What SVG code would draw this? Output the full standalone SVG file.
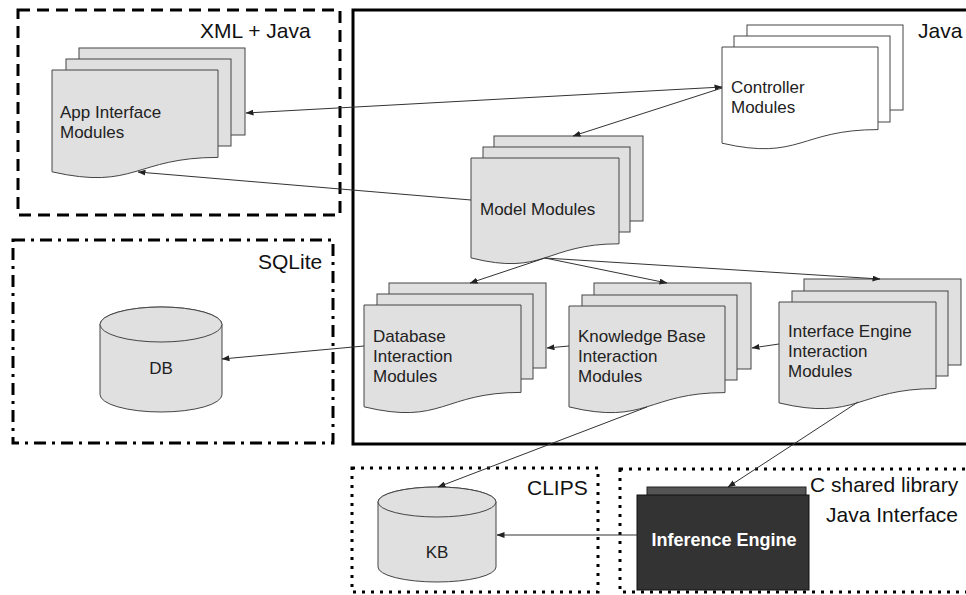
<svg xmlns="http://www.w3.org/2000/svg" width="966" height="595" viewBox="0 0 966 595">
  <style>
    .sheet { fill: #e0e0e0; stroke: #444; stroke-width: 1; }
    .white { fill: #ffffff; stroke: #444; stroke-width: 1; }
    .lbl { font-family: "Liberation Sans", Arial, sans-serif; font-size: 17px; fill: #222; }
    .zone { font-family: "Liberation Sans", Arial, sans-serif; font-size: 21px; fill: #111; }
    .edge { fill: none; stroke: #333; stroke-width: 1; }
    .boxline { fill: none; stroke: #000; stroke-width: 3; }
  </style>
  <defs>
    <marker id="arrow" viewBox="0 0 8 6" refX="7.5" refY="3" markerWidth="8" markerHeight="6" markerUnits="userSpaceOnUse" orient="auto-start-reverse">
      <path d="M0,0 L8,3 L0,6 z" fill="#222"/>
    </marker>
  </defs>

  <!-- technology zones -->
  <g id="zone-xml-java">
    <rect class="boxline" x="18" y="10" width="322" height="205" stroke-dasharray="12 7"/>
    <text class="zone" x="200" y="38">XML + Java</text>
  </g>
  <g id="zone-java">
    <rect class="boxline" x="353" y="10" width="630" height="434"/>
    <text class="zone" x="918" y="38">Java</text>
  </g>
  <g id="zone-sqlite">
    <rect class="boxline" x="13" y="240" width="320" height="203" stroke-dasharray="12 6 3 6"/>
    <text class="zone" x="258" y="269">SQLite</text>
  </g>
  <g id="zone-clips">
    <rect class="boxline" x="352" y="468" width="246" height="124" stroke-dasharray="3 6"/>
    <text class="zone" x="527" y="495">CLIPS</text>
  </g>

  <!-- module stacks -->
  <g id="app-interface">
    <rect class="sheet" x="79" y="48" width="166" height="87"/>
    <rect class="sheet" x="66" y="59" width="165" height="87"/>
    <path class="sheet" d="M52,70 H218 V157.4 C135,157.4 135,190.7 52,171.8 Z"/>
    <text class="lbl" x="60" y="118">App Interface</text>
    <text class="lbl" x="60" y="138">Modules</text>
  </g>
  <g id="controller">
    <rect class="white" x="747" y="25" width="156" height="85"/>
    <rect class="white" x="734" y="36" width="156" height="86"/>
    <path class="white" d="M722,47 H878 V129.6 C800,129.6 800,161.1 722,143.2 Z"/>
    <text class="lbl" x="731" y="93">Controller</text>
    <text class="lbl" x="731" y="113">Modules</text>
  </g>
  <g id="model">
    <rect class="sheet" x="494" y="136" width="149" height="85"/>
    <rect class="sheet" x="483" y="147" width="147" height="85"/>
    <path class="sheet" d="M471,158 H619 V243.8 C545,243.8 545,276.5 471,257.9 Z"/>
    <text class="lbl" x="480" y="215">Model Modules</text>
  </g>
  <g id="database-interaction">
    <rect class="sheet" x="389" y="283" width="157" height="85"/>
    <rect class="sheet" x="377" y="294" width="156" height="85"/>
    <path class="sheet" d="M364,305 H521 V392.4 C442.5,392.4 442.5,425.7 364,406.8 Z"/>
    <text class="lbl" x="373" y="342">Database</text>
    <text class="lbl" x="373" y="362">Interaction</text>
    <text class="lbl" x="373" y="382">Modules</text>
  </g>
  <g id="kb-interaction">
    <rect class="sheet" x="594" y="283" width="157" height="86"/>
    <rect class="sheet" x="582" y="295" width="155" height="85"/>
    <path class="sheet" d="M569,306 H725 V392.6 C647,392.6 647,425.6 569,406.9 Z"/>
    <text class="lbl" x="578" y="342">Knowledge Base</text>
    <text class="lbl" x="578" y="362">Interaction</text>
    <text class="lbl" x="578" y="382">Modules</text>
  </g>
  <g id="engine-interaction">
    <rect class="sheet" x="804" y="279" width="157" height="86"/>
    <rect class="sheet" x="792" y="291" width="156" height="85"/>
    <path class="sheet" d="M779,302 H936 V388.6 C857.5,388.6 857.5,421.6 779,402.9 Z"/>
    <text class="lbl" x="788" y="337">Interface Engine</text>
    <text class="lbl" x="788" y="357">Interaction</text>
    <text class="lbl" x="788" y="377">Modules</text>
  </g>

  <!-- data stores -->
  <g id="db">
    <path class="sheet" d="M100,324.5 A61,17.5 0 0 1 222,324.5 V394.5 A61,17.5 0 0 1 100,394.5 Z"/>
    <ellipse class="sheet" cx="161" cy="324.5" rx="61" ry="17.5"/>
    <text class="lbl" x="161" y="374" text-anchor="middle">DB</text>
  </g>
  <g id="kb">
    <path class="sheet" d="M378,502 A59,15 0 0 1 496,502 V567 A59,15 0 0 1 378,567 Z"/>
    <ellipse class="sheet" cx="437" cy="502" rx="59" ry="15"/>
    <text class="lbl" x="437" y="558" text-anchor="middle">KB</text>
  </g>

  <!-- native engine -->
  <g id="inference-engine">
    <rect x="647" y="487" width="159" height="10" fill="#555" stroke="#222" stroke-width="1"/>
    <rect x="637" y="495" width="172" height="95" fill="#333" stroke="#111" stroke-width="1"/>
    <text x="724" y="546" text-anchor="middle" font-family="'Liberation Sans', Arial, sans-serif" font-size="18" font-weight="bold" fill="#fff">Inference Engine</text>
  </g>
  <g id="zone-c-lib">
    <rect class="boxline" x="620" y="469" width="360" height="123" stroke-dasharray="3 6"/>
    <text class="zone" x="810" y="492">C shared library</text>
    <text class="zone" x="958" y="522" text-anchor="end">Java Interface</text>
  </g>

  <!-- connectors -->
  <g id="connectors">
    <line class="edge" x1="722" y1="87" x2="246" y2="113" marker-start="url(#arrow)" marker-end="url(#arrow)"/>
    <line class="edge" x1="722" y1="88" x2="573" y2="136" marker-end="url(#arrow)"/>
    <line class="edge" x1="471" y1="200" x2="138" y2="172" marker-end="url(#arrow)"/>
    <line class="edge" x1="545" y1="258" x2="470" y2="283" marker-end="url(#arrow)"/>
    <line class="edge" x1="545" y1="258" x2="667" y2="283" marker-end="url(#arrow)"/>
    <line class="edge" x1="545" y1="258" x2="880" y2="279" marker-end="url(#arrow)"/>
    <line class="edge" x1="364" y1="346" x2="222" y2="359" marker-end="url(#arrow)"/>
    <line class="edge" x1="569" y1="346" x2="547" y2="348" marker-end="url(#arrow)"/>
    <line class="edge" x1="779" y1="344" x2="752" y2="348" marker-end="url(#arrow)"/>
    <line class="edge" x1="647" y1="407" x2="438" y2="487" marker-end="url(#arrow)"/>
    <line class="edge" x1="858" y1="402" x2="728" y2="487" marker-end="url(#arrow)"/>
    <line class="edge" x1="637" y1="535" x2="497" y2="535" marker-end="url(#arrow)"/>
  </g>
</svg>
